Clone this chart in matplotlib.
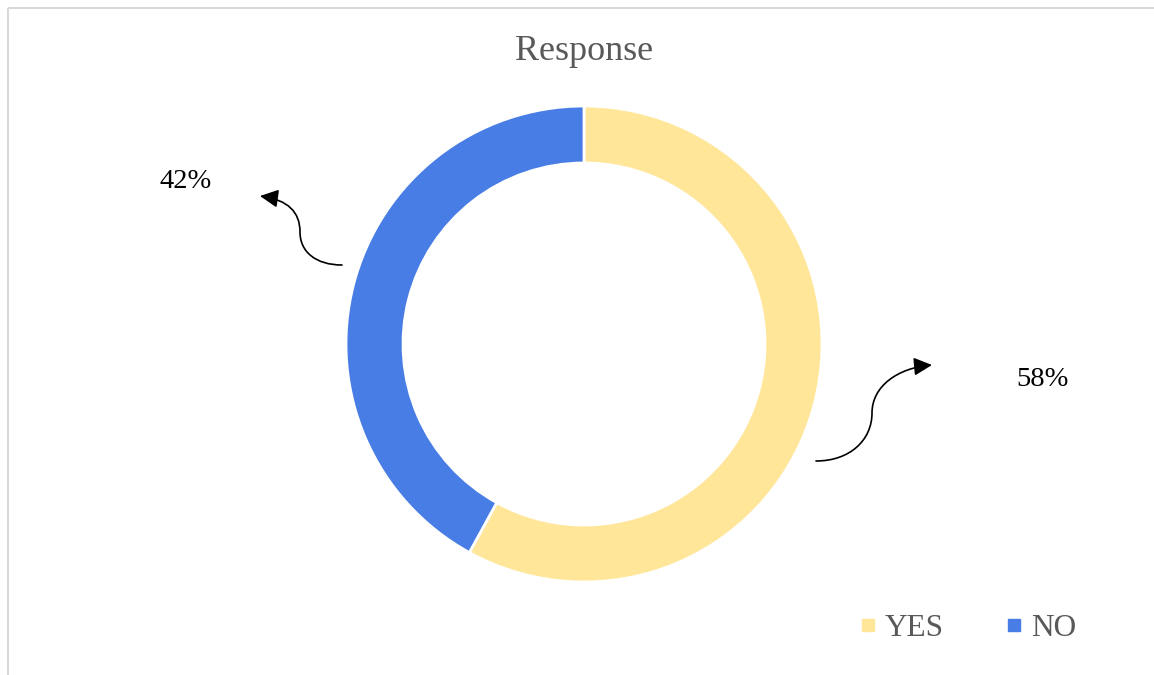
import matplotlib
matplotlib.use("Agg")
import matplotlib.pyplot as plt
from matplotlib.patches import FancyArrowPatch
from matplotlib.path import Path
from matplotlib.lines import Line2D

labels = ["YES", "NO"]
values = [58, 42]
colors = ["#FFE699", "#487DE5"]
pct_text = ["58%", "42%"]

W, H = 1154, 675

plt.rcParams["font.family"] = ["Liberation Serif", "DejaVu Serif"]

fig = plt.figure(figsize=(W / 100, H / 100), dpi=100)
ax = fig.add_axes([0, 0, 1, 1])


def py(y):
    # pixel row (top-down) to data y
    return H - y


# frame lines (top and left)
ax.plot([8, 8], [0, py(8)], color="#D9D9D9", lw=1.5, solid_capstyle="butt")
ax.plot([8, W], [py(8), py(8)], color="#D9D9D9", lw=1.5, solid_capstyle="butt")

ax.pie(values, colors=colors, startangle=90, counterclock=False,
       center=(584, py(344)), radius=238, frame=True,
       wedgeprops=dict(width=57, edgecolor="white", linewidth=2))
ax.set_xlim(0, W)
ax.set_ylim(0, H)
ax.set_aspect("equal")
ax.axis("off")

ax.text(584, py(51), "Response", ha="center", va="center",
        fontsize=26, color="#595959")


# curved arrows
def s_arrow(pts):
    verts = [(x, py(y)) for x, y in pts]
    codes = [Path.MOVETO] + [Path.CURVE4] * (len(verts) - 1)
    arr = FancyArrowPatch(path=Path(verts, codes),
                          arrowstyle="-|>,head_length=11,head_width=5.5",
                          color="black", lw=1.2)
    ax.add_patch(arr)


s_arrow([(342, 265), (316, 265), (300, 252), (300, 232),
         (300, 212), (288, 200), (260, 196)])
s_arrow([(816, 461), (850, 461), (872, 440), (872, 413),
         (872, 386), (898, 368), (932, 365)])

ax.text(1043, py(379), pct_text[0], ha="center", va="center", fontsize=20.5, color="black")
ax.text(186, py(182), pct_text[1], ha="center", va="center", fontsize=20.5, color="black")

handles = [Line2D([], [], marker="s", ls="", markersize=9, color=c) for c in colors]
ax.legend(handles, labels, loc="center left", bbox_to_anchor=(860, py(628)),
          bbox_transform=ax.transData, ncol=2, frameon=False, fontsize=22.5,
          labelcolor="#595959", handlelength=0.5, handletextpad=0.3,
          columnspacing=2.0, borderpad=0, borderaxespad=0)

fig.savefig("out.png", dpi=100)
